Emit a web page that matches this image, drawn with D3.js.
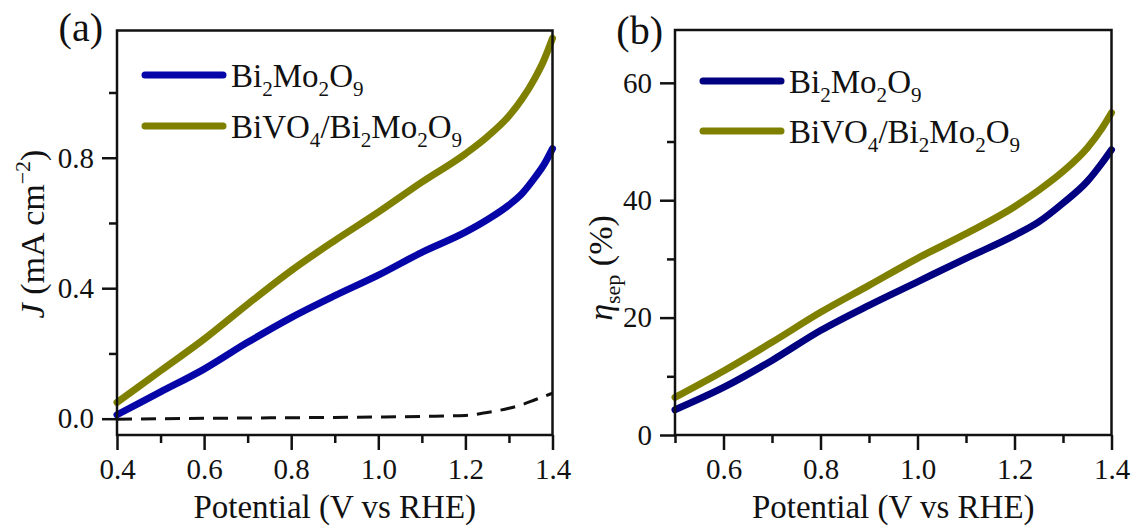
<!DOCTYPE html>
<html>
<head>
<meta charset="utf-8">
<script src="https://cdn.jsdelivr.net/npm/d3@7"></script>
<style>
  html, body { margin: 0; padding: 0; background: #fff; }
  svg { display: block; }
</style>
</head>
<body>
<svg id="chart" width="1134" height="526"></svg>
<script>
// ---- (a) photocurrent density vs potential ----
const potentialA = [0.40, 0.50, 0.60, 0.70, 0.80, 0.90, 1.00, 1.10, 1.20, 1.25, 1.30, 1.33, 1.36, 1.38, 1.40];
const jBi2Mo2O9 = [0.012, 0.082, 0.152, 0.234, 0.310, 0.377, 0.440, 0.510, 0.572, 0.610, 0.655, 0.690, 0.740, 0.778, 0.828];
const jBiVO4Bi2Mo2O9 = [0.050, 0.147, 0.244, 0.351, 0.454, 0.546, 0.633, 0.725, 0.812, 0.864, 0.928, 0.980, 1.045, 1.098, 1.166];
const jDark = [-0.002, 0.000, 0.001, 0.002, 0.003, 0.004, 0.005, 0.007, 0.010, 0.019, 0.032, 0.043, 0.058, 0.068, 0.078];

// ---- (b) charge separation efficiency vs potential ----
const potentialB = [0.50, 0.60, 0.70, 0.80, 0.90, 1.00, 1.10, 1.20, 1.25, 1.30, 1.35, 1.38, 1.40];
const etaBi2Mo2O9 = [4.3, 8.1, 12.7, 17.8, 22.1, 26.1, 30.1, 34.0, 36.3, 39.5, 43.2, 46.3, 48.6];
const etaBiVO4Bi2Mo2O9 = [6.4, 10.9, 15.8, 20.9, 25.5, 30.1, 34.3, 38.9, 41.7, 44.9, 48.9, 52.2, 54.9];

// ---- tick values ----
const xMajorA = [0.4, 0.6, 0.8, 1.0, 1.2, 1.4];
const xMinorA = [0.5, 0.7, 0.9, 1.1, 1.3];
const yMajorA = [0.0, 0.4, 0.8];
const yMinorA = [0.2, 0.6, 1.0];
const xMajorB = [0.6, 0.8, 1.0, 1.2, 1.4];
const xMinorB = [0.5, 0.7, 0.9, 1.1, 1.3];
const yMajorB = [0, 20, 40, 60];
const yMinorB = [10, 30, 50];

const seriesNames = ["Bi2Mo2O9", "BiVO4/Bi2Mo2O9"];

const SERIF = "Liberation Serif, Times New Roman, Times, Tinos, Noto Serif, DejaVu Serif, FreeSerif, serif";
const svg = d3.select("#chart").style("font-family", SERIF);

function zip(xs, ys) { return xs.map((x, i) => [x, ys[i]]); }

// chemical formula with subscripted digits
function formula(textSel, str, size) {
  const parts = str.match(/[A-Za-z\/]+|\d+/g);
  let sub = false;
  parts.forEach(p => {
    const isNum = /^\d+$/.test(p);
    const t = textSel.append("tspan").text(p);
    if (isNum && !sub) { t.attr("dy", size * 0.26).attr("font-size", size * 0.64); sub = true; }
    else if (!isNum && sub) { t.attr("dy", -size * 0.26); sub = false; }
    else if (isNum) { t.attr("font-size", size * 0.64); }
  });
}

function panel(cfg) {
  const g = svg.append("g");
  const x = d3.scaleLinear().domain(cfg.xDomain).range([cfg.left, cfg.right]);
  const y = d3.scaleLinear().domain(cfg.yDomain).range([cfg.bottom, cfg.top]);

  // minor ticks
  g.append("g").attr("transform", `translate(0,${cfg.bottom})`)
    .call(d3.axisBottom(x).tickValues(cfg.xMinor).tickSize(8).tickSizeOuter(0).tickFormat(""))
    .call(a => a.select(".domain").remove());
  g.append("g").attr("transform", `translate(${cfg.left},0)`)
    .call(d3.axisLeft(y).tickValues(cfg.yMinor).tickSize(8).tickSizeOuter(0).tickFormat(""))
    .call(a => a.select(".domain").remove());

  // major ticks with labels
  const xa = g.append("g").attr("transform", `translate(0,${cfg.bottom})`)
    .call(d3.axisBottom(x).tickValues(cfg.xMajor).tickSize(15).tickSizeOuter(0).tickPadding(8).tickFormat(d3.format(".1f")));
  xa.select(".domain").remove();
  const ya = g.append("g").attr("transform", `translate(${cfg.left},0)`)
    .call(d3.axisLeft(y).tickValues(cfg.yMajor).tickSize(15).tickSizeOuter(0).tickPadding(8).tickFormat(cfg.yFormat));
  ya.select(".domain").remove();

  g.selectAll("g").attr("font-family", SERIF);
  g.selectAll(".tick line").attr("stroke", "#111").attr("stroke-width", 2.5);
  g.selectAll(".tick text").attr("font-size", 29).attr("fill", "#111");

  // data lines
  const line = d3.line().x(d => x(d[0])).y(d => y(d[1])).curve(d3.curveMonotoneX);
  cfg.series.forEach(s => {
    g.append("path").datum(zip(s.x, s.y))
      .attr("d", line).attr("fill", "none")
      .attr("stroke", s.color).attr("stroke-width", s.width)
      .attr("stroke-dasharray", s.dash || null)
      .attr("stroke-linecap", s.dash ? "butt" : "round");
  });

  // frame
  g.append("rect")
    .attr("x", cfg.left).attr("y", cfg.top)
    .attr("width", cfg.right - cfg.left).attr("height", cfg.bottom - cfg.top)
    .attr("fill", "none").attr("stroke", "#111").attr("stroke-width", 2.5);

  // legend
  cfg.legend.forEach((l, i) => {
    const ly = cfg.legendY + i * cfg.legendGap;
    g.append("line")
      .attr("x1", cfg.legendX).attr("x2", cfg.legendX + 78)
      .attr("y1", ly).attr("y2", ly)
      .attr("stroke", l.color).attr("stroke-width", 7).attr("stroke-linecap", "round");
    const t = g.append("text")
      .attr("x", cfg.legendX + 86).attr("y", ly + 12)
      .attr("fill", "#111").attr("font-size", 33);
    formula(t, l.name, 33);
  });

  // panel letter
  g.append("text").attr("x", cfg.letterX).attr("y", cfg.letterY)
    .attr("text-anchor", "end").attr("fill", "#111").attr("font-size", 40).text(cfg.letter);

  // x title
  g.append("text")
    .attr("x", (cfg.left + cfg.right) / 2).attr("y", 518)
    .attr("text-anchor", "middle").attr("fill", "#111").attr("font-size", 33)
    .text("Potential (V vs RHE)");

  return { g, x, y };
}

// panel (a)
const pa = panel({
  left: 117, right: 552.5, top: 30.5, bottom: 435,
  xDomain: [0.4, 1.4], yDomain: [-0.05, 1.19],
  xMajor: xMajorA, xMinor: xMinorA, yMajor: yMajorA, yMinor: yMinorA,
  yFormat: d3.format(".1f"),
  series: [
    { x: potentialA, y: jDark, color: "#111", width: 3, dash: "15,9" },
    { x: potentialA, y: jBi2Mo2O9, color: "#0505a8", width: 7 },
    { x: potentialA, y: jBiVO4Bi2Mo2O9, color: "#808000", width: 7 }
  ],
  legend: [
    { name: seriesNames[0], color: "#0505a8" },
    { name: seriesNames[1], color: "#808000" }
  ],
  legendX: 145, legendY: 75, legendGap: 51,
  letter: "(a)", letterX: 103, letterY: 41
});

// y title (a): J (mA cm^-2)
const tA = pa.g.append("text")
  .attr("transform", "translate(44,234) rotate(-90)")
  .attr("text-anchor", "middle").attr("fill", "#111").attr("font-size", 34);
tA.append("tspan").attr("font-style", "italic").text("J");
tA.append("tspan").text(" (mA cm");
tA.append("tspan").attr("dy", -14).attr("font-size", 22).text("\u22122");
tA.append("tspan").attr("dy", 14).text(")");

// panel (b)
const pb = panel({
  left: 675, right: 1111.5, top: 30, bottom: 435,
  xDomain: [0.5, 1.4], yDomain: [0, 69],
  xMajor: xMajorB, xMinor: xMinorB, yMajor: yMajorB, yMinor: yMinorB,
  yFormat: d3.format("d"),
  series: [
    { x: potentialB, y: etaBi2Mo2O9, color: "#000080", width: 7 },
    { x: potentialB, y: etaBiVO4Bi2Mo2O9, color: "#808000", width: 7 }
  ],
  legend: [
    { name: seriesNames[0], color: "#000080" },
    { name: seriesNames[1], color: "#808000" }
  ],
  legendX: 703, legendY: 81, legendGap: 50,
  letter: "(b)", letterX: 663, letterY: 44
});

// y title (b): eta_sep (%)
const tB = pb.g.append("text")
  .attr("transform", "translate(612,268) rotate(-90)")
  .attr("text-anchor", "middle").attr("fill", "#111").attr("font-size", 34);
tB.append("tspan").attr("font-style", "italic").text("\u03b7");
tB.append("tspan").attr("dy", 8).attr("font-size", 22).text("sep");
tB.append("tspan").attr("dy", -8).text(" (%)");
</script>
</body>
</html>
